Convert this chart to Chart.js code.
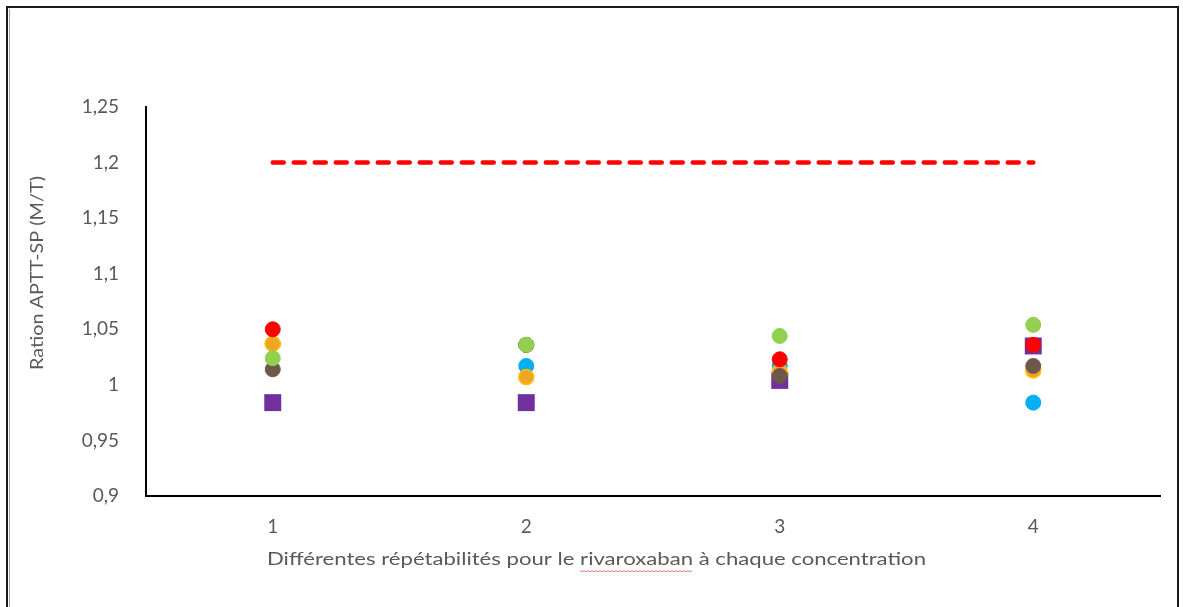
<!DOCTYPE html>
<html><head><meta charset="utf-8">
<script src="https://cdn.jsdelivr.net/npm/chart.js@4.4.0/dist/chart.umd.min.js"></script>
<style>html,body{margin:0;padding:0;background:#fff;overflow:hidden}#wrap{width:1183px;height:607px;position:relative}</style>
</head><body><div id="wrap"><canvas id="c" width="1183" height="607"></canvas></div>
<script>
// ---- data ----
const categories = ['1', '2', '3', '4'];
const yTicks = [0.9, 0.95, 1, 1.05, 1.1, 1.15, 1.2, 1.25];
const limitSeries  = [1.2, 1.2, 1.2, 1.2];
const greenSeries  = [1.024, 1.036, 1.044, 1.054];
const brownSeries  = [1.014, 1.036, 1.008, 1.017];
const redSeries    = [1.050, 1.036, 1.023, 1.036];
const orangeSeries = [1.037, 1.007, 1.012, 1.013];
const blueSeries   = [1.037, 1.017, 1.017, 0.984];
const purpleSeries = [0.984, 0.984, 1.004, 1.035];
const xTitle = 'Différentes répétabilités pour le rivaroxaban à chaque concentration';
const yTitle = 'Ration APTT-SP (M/T)';

const FONT = 'Lato';
const GREY = '#595959';

function pts(data, color, order, extra) {
  return Object.assign({
    data: data, showLine: false, order: order,
    pointRadius: 7.5, pointHoverRadius: 7.5,
    pointBackgroundColor: color, pointBorderColor: color, pointBorderWidth: 1,
    backgroundColor: color, borderColor: color
  }, extra || {});
}

const framePlugin = {
  id: 'frame',
  afterDraw(chart) {
    const ctx = chart.ctx;
    ctx.save();
    // outer frame
    ctx.strokeStyle = '#1a1a1a';
    ctx.lineWidth = 2;
    ctx.strokeRect(7, 7, 1171, 640);
    ctx.strokeStyle = 'rgba(0,0,0,0.35)';
    ctx.lineWidth = 1;
    ctx.beginPath(); ctx.moveTo(9.5, 9); ctx.lineTo(9.5, 607); ctx.stroke();
    // y title (fitted to the reference length)
    ctx.fillStyle = GREY;
    ctx.font = '17px ' + FONT;
    ctx.textAlign = 'center';
    ctx.textBaseline = 'middle';
    const yw = ctx.measureText(yTitle).width;
    ctx.translate(38, 273);
    ctx.rotate(-Math.PI / 2);
    ctx.scale(194 / yw, 1);
    ctx.fillText(yTitle, 0, 0);
    ctx.restore();
    // x title (fitted to the reference length)
    ctx.save();
    ctx.fillStyle = GREY;
    ctx.font = '18px ' + FONT;
    ctx.textAlign = 'left';
    ctx.textBaseline = 'middle';
    const x0 = 267, y0 = 559;
    const xw = ctx.measureText(xTitle).width;
    const k = 659 / xw;
    ctx.translate(x0, y0);
    ctx.scale(k, 1);
    ctx.fillText(xTitle, 0, 0);
    // spell-check squiggle under "rivaroxaban"
    const pre = xTitle.indexOf('rivaroxaban');
    const sx = ctx.measureText(xTitle.slice(0, pre)).width;
    const sw = ctx.measureText('rivaroxaban').width;
    ctx.setTransform(1, 0, 0, 1, 0, 0);
    ctx.strokeStyle = 'rgba(230,60,60,0.7)';
    ctx.lineWidth = 1;
    ctx.beginPath();
    const a = x0 + sx * k, b = x0 + (sx + sw) * k;
    for (let x = a, i = 0; x <= b; x += 2, i++) {
      const y = y0 + 12 + (i % 2 ? 0.6 : -0.2);
      if (i === 0) ctx.moveTo(x, y); else ctx.lineTo(x, y);
    }
    ctx.stroke();
    ctx.restore();
  }
};

new Chart(document.getElementById('c'), {
  type: 'line',
  data: {
    labels: categories,
    datasets: [
      pts(greenSeries, '#92D050', 0),
      pts(brownSeries, '#6E5849', 1),
      pts(redSeries, '#FF0000', 2),
      pts(orangeSeries, '#EFA626', 3, { pointBorderColor: '#FFC000', pointBorderWidth: 1.5 }),
      pts(blueSeries, '#00B0F0', 4),
      pts(purpleSeries, '#7030A0', 5, { pointStyle: 'rect', pointRadius: 12, pointHoverRadius: 12, pointBorderWidth: 0 }),
      {
        data: limitSeries, order: 6, showLine: true, pointRadius: 0, pointHoverRadius: 0,
        borderColor: '#FF0000', borderWidth: 4.5, borderDash: [11, 10], borderCapStyle: 'round',
        fill: false, tension: 0
      }
    ]
  },
  options: {
    responsive: false,
    animation: false,
    devicePixelRatio: 1,
    layout: { padding: { left: 0, top: 107, right: 23, bottom: 0 } },
    plugins: { legend: { display: false }, tooltip: { enabled: false }, title: { display: false } },
    scales: {
      x: {
        type: 'category', offset: true,
        grid: { display: false },
        border: { display: true, color: '#000', width: 2 },
        ticks: { color: GREY, font: { family: FONT, size: 19 }, padding: 11, maxRotation: 0 },
        afterFit(s) { s.height = 111; }
      },
      y: {
        type: 'linear', min: 0.9, max: 1.25,
        grid: { display: false },
        border: { display: true, color: '#000', width: 2 },
        afterBuildTicks(s) { s.ticks = yTicks.map(v => ({ value: v })); },
        ticks: {
          color: GREY, font: { family: FONT, size: 19 }, padding: 19,
          callback: v => String(v).replace('.', ',')
        },
        afterFit(s) { s.width = 146; }
      }
    }
  },
  plugins: [framePlugin]
});
</script>
</body></html>
